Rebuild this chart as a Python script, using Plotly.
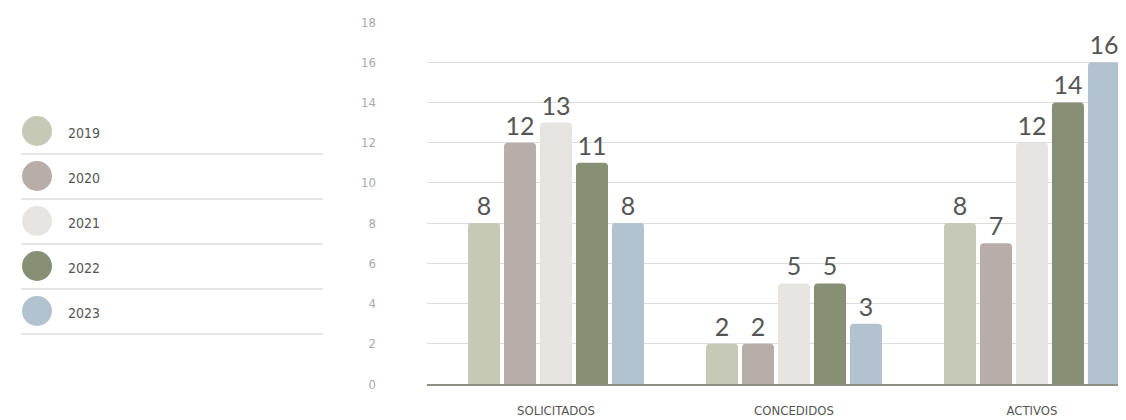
import plotly.graph_objects as go

categories = ["SOLICITADOS", "CONCEDIDOS", "ACTIVOS"]
years = ["2019", "2020", "2021", "2022", "2023"]
values = {
    "2019": [8, 2, 8],
    "2020": [12, 2, 7],
    "2021": [13, 5, 12],
    "2022": [11, 5, 14],
    "2023": [8, 3, 16],
}
colors = ["#C7C9B7", "#B7AEA9", "#E6E5E1", "#879074", "#B3C2CF"]
y_ticks = [0, 2, 4, 6, 8, 10, 12, 14, 16, 18]

OFF = 8  # page body margin
W, H = 1126 - OFF, 420 - OFF
L, R, T, B = 427 - OFF, 0, 22 - OFF, 36
pw, ph = W - L - R, H - T - B

def px(x):  # image x -> paper x
    return (x - OFF - L) / pw

def py(y):  # image y -> paper y
    return (H - B - (y - OFF)) / ph

COND = "DejaVu Sans Condensed, Liberation Sans Narrow, Roboto"

fig = go.Figure()
for yr, c in zip(years, colors):
    fig.add_trace(go.Bar(
        x=categories, y=values[yr], name=yr,
        marker=dict(color=c, line=dict(width=0)),
        text=[str(v) for v in values[yr]], textposition="outside",
        textfont=dict(family="Lato", size=25, color="#555555"),
        cliponaxis=False, showlegend=False,
    ))

shapes = []
annotations = []
for i, (yr, c) in enumerate(zip(years, colors)):
    cy = 131 + 45 * i
    shapes.append(dict(type="circle", xref="paper", yref="paper",
                       x0=px(22), x1=px(52), y0=py(cy + 15), y1=py(cy - 15),
                       fillcolor=c, line=dict(width=0)))
    shapes.append(dict(type="line", xref="paper", yref="paper",
                       x0=px(21), x1=px(323), y0=py(cy + 23), y1=py(cy + 23),
                       line=dict(color="#CCCCCC", width=1.2)))
    annotations.append(dict(text=yr, xref="paper", yref="paper",
                            x=px(66), y=py(cy + 2), xanchor="left", yanchor="middle",
                            showarrow=False,
                            font=dict(family=COND, size=14, color="#555555")))

fig.update_layout(
    width=W, height=H,
    margin=dict(l=L, r=R, t=T, b=B, pad=0),
    paper_bgcolor="white", plot_bgcolor="white",
    barmode="group", bargap=0.244, bargroupgap=0.11,
    barcornerradius=4,
    shapes=shapes, annotations=annotations,
    xaxis=dict(range=[-0.542, 2.395], showgrid=False, showline=True,
               linecolor="#8E9284", linewidth=1.5, ticks="",
               tickfont=dict(family=COND, size=13, color="#555555"),
               ticklabelstandoff=14),
    yaxis=dict(range=[0, 18], tickvals=y_ticks, showgrid=True,
               gridcolor="#DDDDDD", gridwidth=1, zeroline=False,
               ticklabelstandoff=50,
               tickfont=dict(family=COND, size=13, color="#AAAAAA")),
)

fig.write_html("out.html")
